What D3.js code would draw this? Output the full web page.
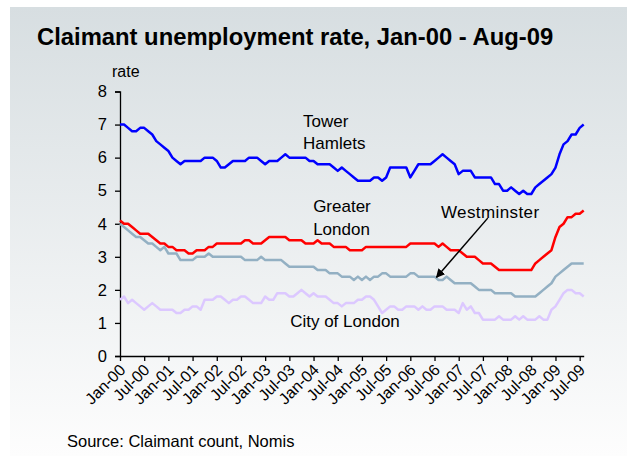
<!DOCTYPE html>
<html>
<head>
<meta charset="utf-8">
<script src="https://cdn.jsdelivr.net/npm/d3@7"></script>
<style>
  body { margin: 0; background: #fff; }
  svg text { font-family: Arial, "Liberation Sans", sans-serif; fill: #000; }
</style>
</head>
<body>
<script>
// monthly claimant rate, Jan-00 .. Aug-09 (116 months)
var towerHamlets = [
  7.0,7.0,6.9,6.8,6.8,6.9,6.9,6.8,6.7,6.5,6.4,6.3,
  6.2,6.0,5.9,5.8,5.9,5.9,5.9,5.9,5.9,6.0,6.0,6.0,
  5.9,5.7,5.7,5.8,5.9,5.9,5.9,5.9,6.0,6.0,6.0,5.9,
  5.8,5.9,5.9,5.9,6.0,6.1,6.0,6.0,6.0,6.0,6.0,5.9,
  5.9,5.8,5.8,5.8,5.8,5.7,5.6,5.7,5.6,5.5,5.4,5.3,
  5.3,5.3,5.3,5.4,5.4,5.3,5.4,5.7,5.7,5.7,5.7,5.7,
  5.4,5.6,5.8,5.8,5.8,5.8,5.9,6.0,6.1,6.0,5.9,5.8,
  5.5,5.6,5.6,5.6,5.4,5.4,5.4,5.4,5.4,5.2,5.2,5.0,
  5.0,5.1,5.0,4.9,5.0,4.9,4.9,5.1,5.2,5.3,5.4,5.5,
  5.7,6.1,6.4,6.5,6.7,6.7,6.9,7.0
];
var greaterLondon = [
  4.1,4.0,4.0,3.9,3.8,3.7,3.7,3.7,3.6,3.5,3.4,3.4,
  3.3,3.3,3.2,3.2,3.2,3.1,3.1,3.2,3.2,3.2,3.3,3.3,
  3.4,3.4,3.4,3.4,3.4,3.4,3.4,3.5,3.5,3.4,3.4,3.4,
  3.5,3.6,3.6,3.6,3.6,3.6,3.5,3.5,3.5,3.5,3.4,3.4,
  3.4,3.5,3.4,3.4,3.4,3.3,3.3,3.3,3.3,3.2,3.2,3.2,
  3.2,3.3,3.3,3.3,3.3,3.3,3.3,3.3,3.3,3.3,3.3,3.3,
  3.4,3.4,3.4,3.4,3.4,3.4,3.4,3.3,3.4,3.3,3.2,3.2,
  3.2,3.1,3.0,3.0,3.0,2.9,2.8,2.8,2.8,2.7,2.6,2.6,
  2.6,2.6,2.6,2.6,2.6,2.6,2.6,2.8,2.9,3.0,3.1,3.2,
  3.6,3.9,4.0,4.2,4.2,4.3,4.3,4.4
];
var westminster = [
  4.0,3.9,3.8,3.7,3.6,3.6,3.5,3.4,3.4,3.3,3.2,3.3,
  3.1,3.1,3.1,2.9,2.9,2.9,2.9,3.0,3.0,3.0,3.1,3.0,
  3.0,3.0,3.0,3.0,3.0,3.0,3.0,2.9,2.9,2.9,2.9,3.0,
  2.9,2.9,2.9,2.9,2.9,2.8,2.7,2.7,2.7,2.7,2.7,2.7,
  2.7,2.6,2.6,2.6,2.5,2.5,2.5,2.4,2.4,2.4,2.3,2.4,
  2.3,2.4,2.3,2.4,2.4,2.5,2.5,2.4,2.4,2.4,2.4,2.4,
  2.5,2.5,2.4,2.4,2.4,2.4,2.4,2.3,2.3,2.4,2.3,2.2,
  2.2,2.2,2.2,2.2,2.1,2.0,2.0,2.0,2.0,1.9,1.9,1.9,
  1.9,1.9,1.8,1.8,1.8,1.8,1.8,1.8,1.9,2.0,2.1,2.2,
  2.4,2.5,2.6,2.7,2.8,2.8,2.8,2.8
];
var cityOfLondon = [
  1.7,1.8,1.6,1.7,1.6,1.5,1.4,1.5,1.6,1.5,1.4,1.4,
  1.4,1.4,1.3,1.3,1.4,1.4,1.5,1.5,1.4,1.7,1.7,1.7,
  1.8,1.8,1.7,1.6,1.7,1.7,1.8,1.8,1.7,1.6,1.6,1.6,
  1.8,1.7,1.7,1.9,1.9,1.9,1.8,1.8,1.9,2.0,1.9,1.8,
  1.9,1.8,1.8,1.8,1.7,1.6,1.6,1.5,1.6,1.6,1.6,1.7,
  1.7,1.8,1.8,1.7,1.5,1.3,1.4,1.5,1.5,1.4,1.4,1.5,
  1.5,1.5,1.4,1.5,1.4,1.4,1.5,1.5,1.5,1.4,1.4,1.4,
  1.3,1.6,1.4,1.5,1.3,1.3,1.1,1.1,1.1,1.1,1.2,1.1,
  1.1,1.1,1.2,1.1,1.2,1.1,1.1,1.1,1.2,1.1,1.1,1.4,
  1.5,1.7,1.9,2.0,2.0,1.9,1.9,1.8
];
var yTicks = [0,1,2,3,4,5,6,7,8];
var xTickLabels = ["Jan-00","Jul-00","Jan-01","Jul-01","Jan-02","Jul-02","Jan-03","Jul-03",
  "Jan-04","Jul-04","Jan-05","Jul-05","Jan-06","Jul-06","Jan-07","Jul-07",
  "Jan-08","Jul-08","Jan-09","Jul-09"];

var width = 627, height = 456;

var svg = d3.select("body").append("svg")
    .attr("width", width)
    .attr("height", height);

var defs = svg.append("defs");
var grad = defs.append("linearGradient")
    .attr("id", "bg")
    .attr("x1", 0).attr("y1", 0).attr("x2", 0).attr("y2", 1);
grad.append("stop").attr("offset", "0%").attr("stop-color", "#d7dee1");
grad.append("stop").attr("offset", "100%").attr("stop-color", "#fdfdfd");

defs.append("marker")
    .attr("id", "arrow")
    .attr("viewBox", "0 0 10 10")
    .attr("refX", 9).attr("refY", 5)
    .attr("markerWidth", 6).attr("markerHeight", 6)
    .attr("orient", "auto")
  .append("path")
    .attr("d", "M0,0L10,5L0,10z")
    .attr("fill", "#000");

svg.append("rect")
    .attr("x", 10).attr("y", 7)
    .attr("width", width - 10).attr("height", height - 7)
    .attr("fill", "url(#bg)");

var x = d3.scaleLinear().domain([0, 115]).range([120, 583.7]);
var y = d3.scaleLinear().domain([0, 8]).range([356, 91.5]);

// title
svg.append("text")
    .attr("x", 37).attr("y", 45)
    .style("font-size", "23.8px")
    .style("font-weight", "bold")
    .text("Claimant unemployment rate, Jan-00 - Aug-09");

svg.append("text")
    .attr("x", 112).attr("y", 77)
    .style("font-size", "16px")
    .text("rate");

// y axis
var yAxis = d3.axisLeft(y).tickValues(yTicks).tickSize(5).tickPadding(8);
var gy = svg.append("g").attr("transform", "translate(120,0)").call(yAxis);
gy.select(".domain").attr("stroke", "#000").attr("stroke-width", 1.3);
gy.selectAll(".tick line").attr("stroke", "#000").attr("stroke-width", 1.3);
gy.selectAll("text").style("font-size", "16.5px").attr("fill", "#000");

// x axis
var xAxis = d3.axisBottom(x)
    .tickValues(d3.range(0, 115, 6))
    .tickFormat(function(d) { return xTickLabels[d / 6]; })
    .tickSize(5).tickSizeOuter(0);
var gx = svg.append("g").attr("transform", "translate(0,356)").call(xAxis);
gx.select(".domain").attr("stroke", "#000").attr("stroke-width", 1.3);
gx.selectAll(".tick line").attr("stroke", "#000").attr("stroke-width", 1.3);
gx.selectAll("text")
    .style("font-size", "16px")
    .attr("fill", "#000")
    .style("text-anchor", "end")
    .attr("x", 0).attr("y", 0)
    .attr("dx", 0).attr("dy", "0.7em")
    .attr("transform", "translate(-2,7) rotate(-45)");

// lines
var line = d3.line()
    .x(function(d, i) { return x(i); })
    .y(function(d) { return y(d); });

var series = [
  {vals: cityOfLondon, col: "#dcc8ff"},
  {vals: westminster, col: "#93b0c3"},
  {vals: greaterLondon, col: "#ff0000"},
  {vals: towerHamlets, col: "#0000ff"}
];
series.forEach(function(s) {
  svg.append("path")
      .datum(s.vals)
      .attr("fill", "none")
      .attr("stroke", s.col)
      .attr("stroke-width", 2.5)
      .attr("stroke-linejoin", "round")
      .attr("d", line);
});

// labels
var lbl = svg.append("g").style("font-size", "17px");
lbl.append("text").attr("x", x(45.4)).attr("y", y(6.93)).text("Tower");
lbl.append("text").attr("x", x(45.4)).attr("y", y(6.26)).text("Hamlets");
lbl.append("text").attr("x", x(47.9)).attr("y", y(4.36)).text("Greater");
lbl.append("text").attr("x", x(47.9)).attr("y", y(3.66)).text("London");
lbl.append("text").attr("x", x(79.6)).attr("y", y(4.17)).style("letter-spacing", "0.4px").text("Westminster");
lbl.append("text").attr("x", x(42.2)).attr("y", y(0.88)).text("City of London");

svg.append("line")
    .attr("x1", x(91.2)).attr("y1", y(4.17))
    .attr("x2", x(78.5)).attr("y2", y(2.38))
    .attr("stroke", "#000").attr("stroke-width", 1.5)
    .attr("marker-end", "url(#arrow)");

svg.append("text")
    .attr("x", 67).attr("y", 447)
    .style("font-size", "16.5px")
    .text("Source: Claimant count, Nomis");
</script>
</body>
</html>
